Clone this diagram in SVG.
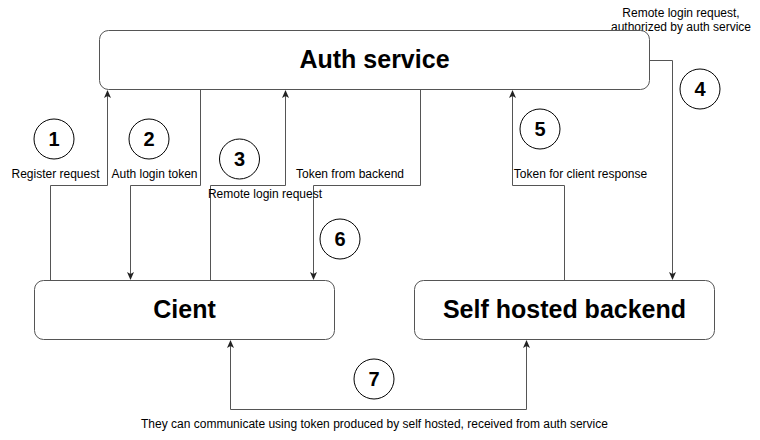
<svg xmlns="http://www.w3.org/2000/svg" width="760" height="440" viewBox="0 0 760 440">
<style>
.box{fill:#fff;stroke:#555;stroke-width:1}
.lbl{font-family:"Liberation Sans",Arial,sans-serif;font-weight:bold;font-size:25px;fill:#000;text-anchor:middle}
.edge{fill:none;stroke:#555;stroke-width:1}
.txt{font-family:"Liberation Sans",Arial,sans-serif;font-size:12px;fill:#000;text-anchor:middle}
.num circle{fill:#fff;stroke:#000;stroke-width:1}
.num text{font-family:"Liberation Sans",Arial,sans-serif;font-weight:bold;font-size:20px;fill:#000;text-anchor:middle}
</style>
<defs>
<marker id="arr" viewBox="0 0 8 8" refX="7" refY="4" markerWidth="8" markerHeight="8" markerUnits="userSpaceOnUse" orient="auto-start-reverse">
<path d="M0,0.5 L8,4 L0,7.5 L2,4 Z" fill="#222"/>
</marker>
</defs>
<rect width="760" height="440" fill="#fff"/>
<g id="connectors">
<path class="edge" d="M50.5,280 V185.5 H107.5 V91" marker-end="url(#arr)"/>
<path class="edge" d="M200.5,90 V185.5 H130.5 V279" marker-end="url(#arr)"/>
<path class="edge" d="M210.5,280 V185.5 H285.5 V91" marker-end="url(#arr)"/>
<path class="edge" d="M649,60.5 H672.5 V279" marker-end="url(#arr)"/>
<path class="edge" d="M564.5,280 V185.5 H512.5 V91" marker-end="url(#arr)"/>
<path class="edge" d="M420.5,90 V185.5 H313.5 V279" marker-end="url(#arr)"/>
<path class="edge" d="M230.5,341 V409.5 H526.5 V341" marker-start="url(#arr)" marker-end="url(#arr)"/>
</g>
<g id="edge-labels">
<text class="txt" x="55.5" y="178">Register request</text>
<text class="txt" x="154.5" y="178">Auth login token</text>
<text class="txt" x="265" y="198">Remote login request</text>
<text class="txt" x="350" y="178">Token from backend</text>
<text class="txt" x="580.5" y="178">Token for client response</text>
<text class="txt" x="681" y="17">Remote login request,</text>
<text class="txt" x="681" y="31">authorized by auth service</text>
<text class="txt" x="374.5" y="428">They can communicate using token produced by self hosted, received from auth service</text>
</g>
<g id="auth">
<rect class="box" x="99.5" y="30.5" width="550" height="59" rx="9"/>
<text class="lbl" x="374.5" y="67.5">Auth service</text>
</g>
<g id="client">
<rect class="box" x="34.5" y="280.5" width="300" height="59" rx="9"/>
<text class="lbl" x="184.5" y="317.5">Cient</text>
</g>
<g id="backend">
<rect class="box" x="414.5" y="280.5" width="300" height="59" rx="9"/>
<text class="lbl" x="564.5" y="317.5">Self hosted backend</text>
</g>
<g id="step1" class="num"><circle cx="54" cy="139" r="20"/><text x="54" y="146">1</text></g>
<g id="step2" class="num"><circle cx="149" cy="139" r="20"/><text x="149" y="146">2</text></g>
<g id="step3" class="num"><circle cx="239.5" cy="159" r="20"/><text x="239.5" y="166">3</text></g>
<g id="step4" class="num"><circle cx="700" cy="89" r="20"/><text x="700" y="96">4</text></g>
<g id="step5" class="num"><circle cx="540" cy="129" r="20"/><text x="540" y="136">5</text></g>
<g id="step6" class="num"><circle cx="340" cy="239" r="20"/><text x="340" y="246">6</text></g>
<g id="step7" class="num"><circle cx="374" cy="379" r="20"/><text x="374" y="386">7</text></g>
</svg>
